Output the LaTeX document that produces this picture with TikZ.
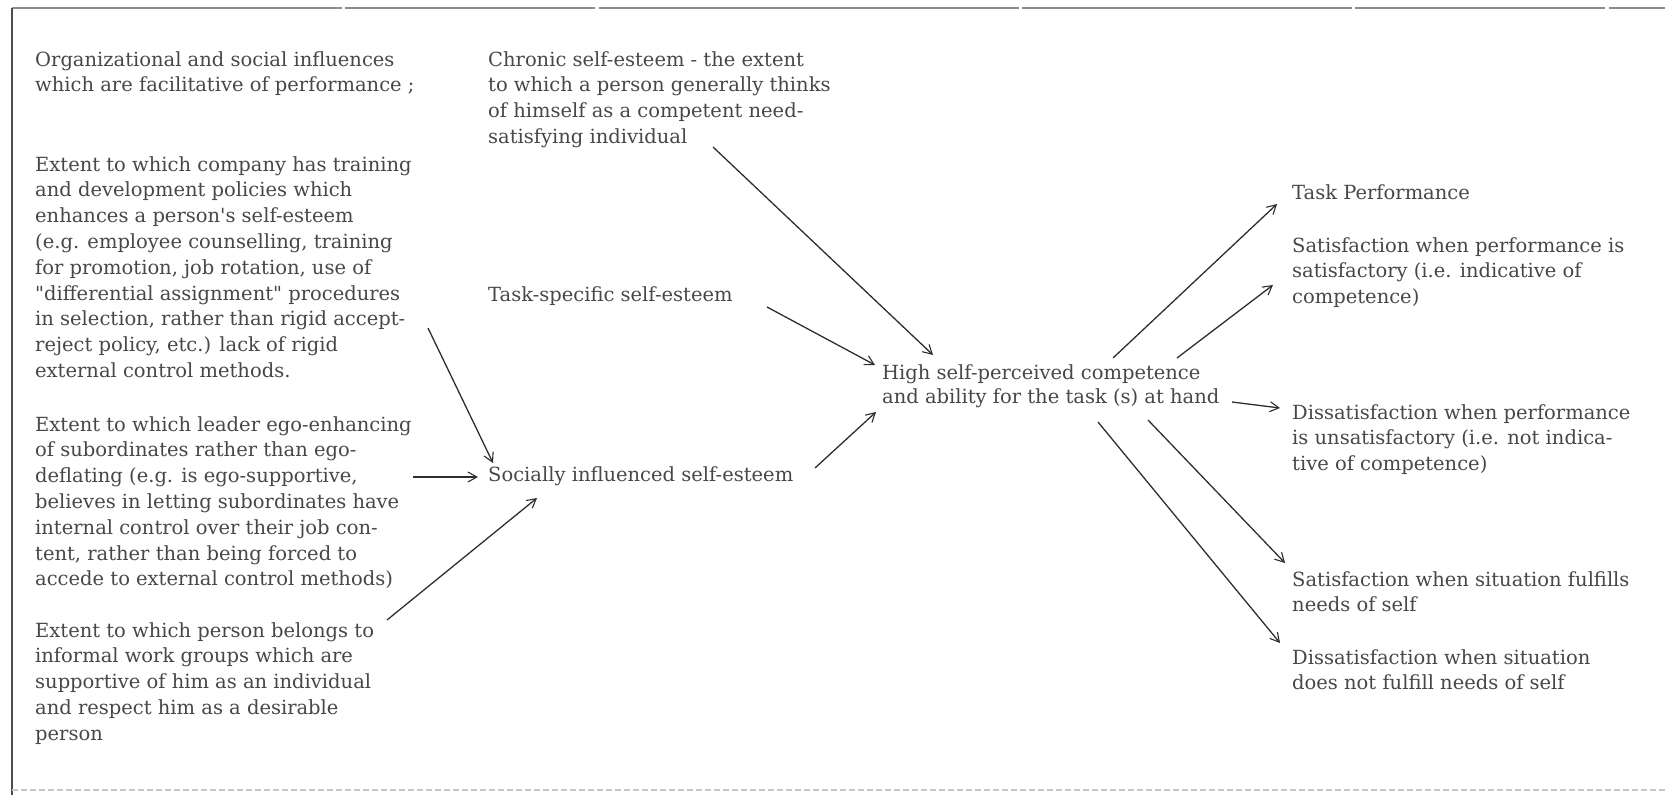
\documentclass[tikz,border=0pt]{standalone}
\usepackage{fontspec}
\setmainfont{DejaVu Serif}[Ligatures=TeXOff]
\usetikzlibrary{arrows.meta}
\definecolor{inkline}{HTML}{2E2E2E}
\definecolor{inktext}{HTML}{474747}
\tikzset{
  txt/.style={anchor=north west, align=left, inner sep=0pt, text=inktext,
    font=\fontsize{19.5}{25.8}\selectfont},
  arr/.style={draw=inkline, line width=1.3pt,
    -{Straight Barb[length=9pt,width=10pt,line width=1.1pt]}},
  frame/.style={draw=black!70, line width=1.1pt}
}
\begin{document}
\begin{tikzpicture}[x=1pt,y=-1pt]
\useasboundingbox (0,0) rectangle (1665,795);
% frame
\draw[draw=black!45, line width=1.1pt, dash pattern=on 330pt off 3pt on 250pt off 4pt on 420pt off 3pt] (12,8) -- (1665,8);
\draw[frame] (12,8) -- (12,795);
\draw[draw=black!22, line width=1.2pt, dash pattern=on 6pt off 3pt] (12,790) -- (1665,790);

% left column
\node[txt] (org) at (35,51) {Organizational and social influences\\which are facilitative of performance ;};
\node[txt] (comp) at (35,156) {Extent to which company has training\\and development policies which\\enhances a person's self-esteem\\(e.g.  employee counselling, training\\for promotion, job rotation, use of\\"differential assignment" procedures\\in selection, rather than rigid accept-\\reject policy, etc.) lack of rigid\\external control methods.};
\node[txt] (leader) at (35,416) {Extent to which leader ego-enhancing\\of subordinates rather than ego-\\deflating (e.g. is ego-supportive,\\believes in letting subordinates have\\internal control over their job con-\\tent, rather than being forced to\\accede to external control methods)};
\node[txt] (groups) at (35,622) {Extent to which person belongs to\\informal work groups which are\\supportive of him as an individual\\and respect him as a desirable\\person};

% middle column
\node[txt] (chronic) at (488,51) {Chronic self-esteem - the extent\\to which a person generally thinks\\of himself as a competent need-\\satisfying individual};
\node[txt] (task) at (488,286) {Task-specific self-esteem};
\node[txt] (social) at (488,466) {Socially influenced self-esteem};
\node[txt, font=\fontsize{19.5}{24}\selectfont] (high) at (882,364) {High self-perceived competence\\and ability for the task (s) at hand};

% right column
\node[txt] (perf) at (1292,184) {Task Performance};
\node[txt] (satperf) at (1292,237) {Satisfaction when performance is\\satisfactory (i.e.  indicative of\\competence)};
\node[txt] (dissperf) at (1292,404) {Dissatisfaction when performance\\is unsatisfactory (i.e.  not indica-\\tive of competence)};
\node[txt] (satsit) at (1292,571) {Satisfaction when situation fulfills\\needs of self};
\node[txt] (disssit) at (1292,649) {Dissatisfaction when situation\\does not fulfill needs of self};

% connector end points
\coordinate (a1s) at (428,328); \coordinate (a1e) at (493,463);
\coordinate (a2s) at (413,477); \coordinate (a2e) at (478,477);
\coordinate (a3s) at (387,620); \coordinate (a3e) at (537,498);
\coordinate (a4s) at (713,147); \coordinate (a4e) at (933,355);
\coordinate (a5s) at (767,307); \coordinate (a5e) at (875,365);
\coordinate (a6s) at (815,468); \coordinate (a6e) at (876,412);
\coordinate (b1s) at (1113,358); \coordinate (b1e) at (1277,204);
\coordinate (b2s) at (1177,358); \coordinate (b2e) at (1273,285);
\coordinate (b3s) at (1232,402); \coordinate (b3e) at (1280,408);
\coordinate (b4s) at (1148,420); \coordinate (b4e) at (1285,563);
\coordinate (b5s) at (1098,422); \coordinate (b5e) at (1280,643);

\draw[arr] (a1s) -- (a1e);
\draw[arr] (a2s) -- (a2e);
\draw[arr] (a3s) -- (a3e);
\draw[arr] (a4s) -- (a4e);
\draw[arr] (a5s) -- (a5e);
\draw[arr] (a6s) -- (a6e);
\draw[arr] (b1s) -- (b1e);
\draw[arr] (b2s) -- (b2e);
\draw[arr] (b3s) -- (b3e);
\draw[arr] (b4s) -- (b4e);
\draw[arr] (b5s) -- (b5e);
\end{tikzpicture}
\end{document}
